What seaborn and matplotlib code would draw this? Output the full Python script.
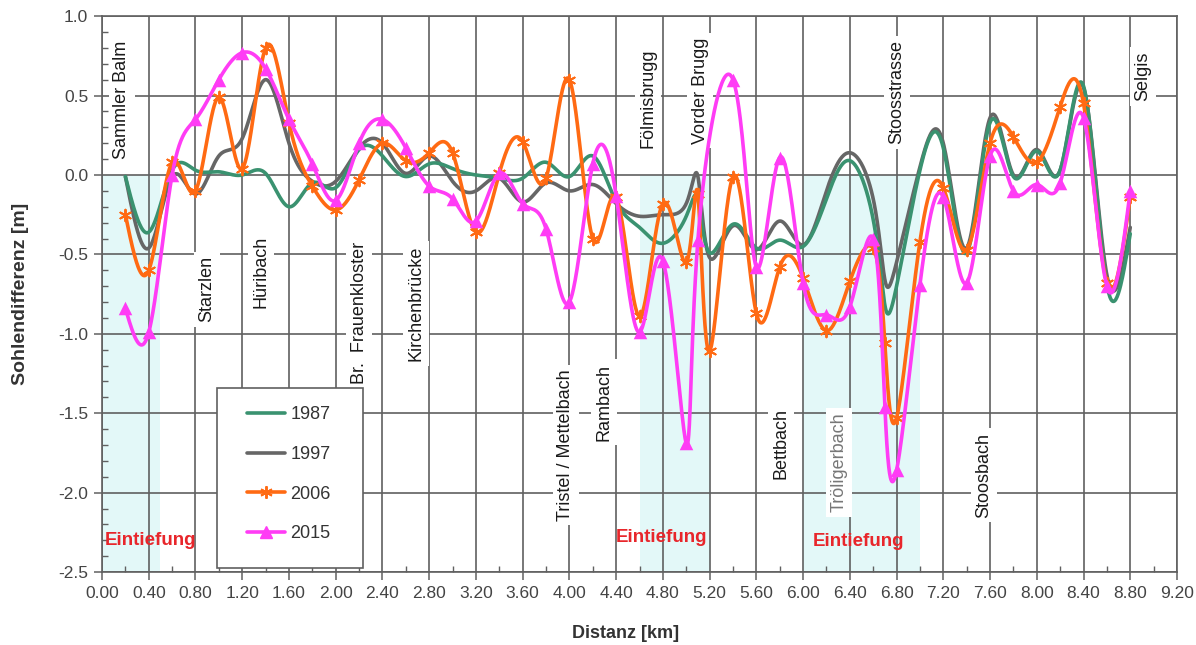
import numpy as np
import matplotlib
matplotlib.use("Agg")
import matplotlib.pyplot as plt
from matplotlib.lines import Line2D
from matplotlib.patches import Rectangle
import seaborn as sns

# ---- data: bed-level difference along the river (km, m) ----
distanz_km = [0.2, 0.4, 0.6, 0.8, 1.0, 1.2, 1.4, 1.6, 1.8, 2.0, 2.2, 2.4, 2.6, 2.8,
              3.0, 3.2, 3.4, 3.6, 3.8, 4.0, 4.2, 4.4, 4.6, 4.8, 5.0, 5.1, 5.2, 5.4,
              5.6, 5.8, 6.0, 6.2, 6.4, 6.6, 6.7, 6.8, 7.0, 7.2, 7.4, 7.6, 7.8, 8.0,
              8.2, 8.4, 8.6, 8.8]

sohle_1987 = [-0.01, -0.36, 0.03, 0.03, 0.02, 0.00, 0.01, -0.20, -0.05, -0.08, 0.16, 0.12,
              -0.01, 0.07, 0.04, 0.00, -0.02, -0.02, 0.08, -0.01, 0.12, -0.17, -0.33, -0.43,
              -0.26, -0.15, -0.49, -0.31, -0.46, -0.41, -0.45, -0.15, 0.09, -0.28, -0.82,
              -0.70, 0.03, 0.17, -0.49, 0.33, -0.01, 0.15, 0.03, 0.56, -0.69, -0.37]

sohle_1997 = [-0.01, -0.46, -0.01, -0.12, 0.12, 0.23, 0.60, 0.20, -0.04, -0.04, 0.17, 0.20,
              0.01, 0.12, -0.04, -0.10, -0.02, -0.17, -0.05, -0.10, -0.06, -0.18, -0.26, -0.25,
              -0.18, -0.01, -0.52, -0.32, -0.47, -0.29, -0.44, -0.10, 0.14, -0.15, -0.66,
              -0.55, 0.05, 0.20, -0.46, 0.36, 0.00, 0.16, 0.03, 0.55, -0.63, -0.33]

sohle_2006 = [-0.25, -0.60, 0.08, -0.10, 0.49, 0.04, 0.80, 0.33, -0.07, -0.22, -0.03, 0.20,
              0.09, 0.14, 0.14, -0.36, 0.01, 0.21, -0.02, 0.60, -0.40, -0.14, -0.89, -0.18,
              -0.55, -0.12, -1.11, -0.01, -0.87, -0.58, -0.65, -0.98, -0.67, -0.46, -1.06,
              -1.53, -0.42, -0.08, -0.47, 0.20, 0.24, 0.08, 0.43, 0.45, -0.68, -0.14]

sohle_2015 = [-0.84, -0.99, 0.00, 0.35, 0.60, 0.77, 0.67, 0.35, 0.07, -0.16, 0.20, 0.35,
              0.17, -0.07, -0.15, -0.29, 0.01, -0.18, -0.34, -0.80, 0.07, -0.13, -0.99, -0.54,
              -1.69, -0.41, None, 0.60, -0.58, 0.11, -0.68, -0.88, -0.83, -0.40, -1.46,
              -1.86, -0.69, -0.14, -0.68, 0.12, -0.10, -0.06, -0.05, 0.36, -0.70, -0.10]

jahre = ["1987", "1997", "2006", "2015"]

# river features along the profile: name, km, m
orte = [("Sammler Balm", 0.17, 0.47), ("Starzlen", 0.90, -0.72), ("Hüribach", 1.36, -0.61),
        ("Br.  Frauenkloster", 2.20, -0.87), ("Kirchenbrücke", 2.69, -0.81),
        ("Tristel / Mettelbach", 3.97, -1.70), ("Rambach", 4.30, -1.43),
        ("Fölmisbrugg", 4.67, 0.48), ("Vorder Brugg", 5.12, 0.53), ("Bettbach", 5.81, -1.69),
        ("Tröligerbach", 6.31, -1.81), ("Stoosstrasse", 6.80, 0.52), ("Stoosbach", 7.55, -1.89),
        ("Selgis", 8.91, 0.62)]

# reaches with bed incision
eintiefung_bereiche = [(0.0, 0.5), (4.6, 5.2), (6.0, 7.0)]
eintiefung_text = [(0.02, -2.30), (4.40, -2.28), (6.08, -2.31)]


def natural_second_derivs(t, v):
    n = len(t)
    h = np.diff(t)
    A = np.zeros((n, n))
    r = np.zeros(n)
    A[0, 0] = A[-1, -1] = 1.0
    for i in range(1, n - 1):
        A[i, i - 1] = h[i - 1]
        A[i, i] = 2 * (h[i - 1] + h[i])
        A[i, i + 1] = h[i]
        r[i] = 6 * ((v[i + 1] - v[i]) / h[i] - (v[i] - v[i - 1]) / h[i - 1])
    return np.linalg.solve(A, r)


def eval_spline(t, v, M, tt, i):
    h = t[i + 1] - t[i]
    a = t[i + 1] - tt
    b = tt - t[i]
    return (M[i] * a ** 3 + M[i + 1] * b ** 3) / (6 * h) \
        + (v[i] / h - M[i] * h / 6) * a + (v[i + 1] / h - M[i + 1] * h / 6) * b


def smooth_curve(x, y, per_seg=40):
    """Parametric natural cubic spline through the points (one parameter step per point)."""
    x = np.asarray(x, float)
    y = np.asarray(y, float)
    t = np.arange(len(x), dtype=float)
    Mx = natural_second_derivs(t, x)
    My = natural_second_derivs(t, y)
    xs, ys = [], []
    for i in range(len(x) - 1):
        tt = np.linspace(t[i], t[i + 1], per_seg, endpoint=(i == len(x) - 2))
        xs.append(eval_spline(t, x, Mx, tt, i))
        ys.append(eval_spline(t, y, My, tt, i))
    return np.concatenate(xs), np.concatenate(ys)


sns.set_theme(style="white")
plt.rcParams["font.family"] = ["Liberation Sans", "DejaVu Sans"]
plt.rcParams["axes.unicode_minus"] = False

fig = plt.figure(figsize=(11.96, 6.45), dpi=100)
ax = fig.add_axes([0.0853, 0.113, 0.8988, 0.862])

grid_col = "#606060"
ax.set_xlim(0, 9.2)
ax.set_ylim(-2.5, 1.0)

# shaded incision reaches (below zero only)
for x0, x1 in eintiefung_bereiche:
    ax.fill_between([x0, x1], -2.5, 0.0, color="#e3f8f8", lw=0, zorder=0.5)

ax.set_xticks(np.arange(0, 9.21, 0.4))
ax.set_xticks(np.arange(0, 9.21, 0.2), minor=True)
ax.set_yticks(np.arange(-2.5, 1.01, 0.5))
ax.set_yticks(np.arange(-2.5, 1.01, 0.1), minor=True)
ax.set_xticklabels([f"{v:.2f}" for v in np.arange(0, 9.21, 0.4)])
ax.set_yticklabels([f"{v:.1f}" for v in np.arange(-2.5, 1.01, 0.5)])
ax.grid(True, which="major", color=grid_col, lw=1.2, zorder=1)
ax.set_axisbelow(True)
ax.tick_params(axis="both", which="major", direction="out", length=6, width=1.1,
               color=grid_col, labelsize=12.5, labelcolor="#444444", pad=4, bottom=True, left=True)
ax.tick_params(axis="both", which="minor", direction="in", length=4, width=1.0,
               color=grid_col, bottom=True, left=True)
for side in ax.spines.values():
    side.set_color(grid_col)
    side.set_linewidth(1.2)

# place names
for name, xo, yo in orte:
    col = "#777777" if name == "Tröligerbach" else "#1a1a1a"
    ax.text(xo, yo, name, rotation=90, ha="center", va="center", fontsize=13, color=col,
            zorder=2.5, bbox=dict(boxstyle="square,pad=0.25", fc="white", ec="none"))

for xo, yo in eintiefung_text:
    ax.text(xo, yo, "Eintiefung", ha="left", va="center", fontsize=13.5, fontweight="bold",
            color="#e8262b", zorder=2.6)

serien = {
    "1997": dict(y=sohle_1997, color="#666666", marker=None, z=3),
    "1987": dict(y=sohle_1987, color="#3a9270", marker=None, z=3.2),
    "2006": dict(y=sohle_2006, color="#ff6a13", marker=(6, 2, 0), z=3.4),
    "2015": dict(y=sohle_2015, color="#ff3cf5", marker="^", z=3.6),
}

for jahr, spec in serien.items():
    pts = [(x, v) for x, v in zip(distanz_km, spec["y"]) if v is not None]
    xp = [p[0] for p in pts]
    yp = [p[1] for p in pts]
    xs, ys = smooth_curve(xp, yp)
    sns.lineplot(x=xs, y=ys, ax=ax, color=spec["color"], lw=2.6, sort=False,
                 estimator=None, zorder=spec["z"])
    if spec["marker"] == "^":
        sns.scatterplot(x=xp, y=yp, ax=ax, marker="^", s=95, color=spec["color"],
                        edgecolor=spec["color"], linewidth=0, zorder=spec["z"] + 0.05)
    elif spec["marker"] is not None:
        sns.scatterplot(x=xp, y=yp, ax=ax, marker=spec["marker"], s=70, color=spec["color"],
                        edgecolor=spec["color"], linewidth=1.4, zorder=spec["z"] + 0.05)

# legend box
ax.add_patch(Rectangle((0.107, 0.0072), 0.1358, 0.3237, transform=ax.transAxes,
                       fc="white", ec=grid_col, lw=1.2, zorder=4.9))
handles = [
    Line2D([], [], color=serien["1987"]["color"], lw=2.6),
    Line2D([], [], color=serien["1997"]["color"], lw=2.6),
    Line2D([], [], color=serien["2006"]["color"], lw=2.6, marker=(6, 2, 0), markersize=9,
           markeredgewidth=1.4),
    Line2D([], [], color=serien["2015"]["color"], lw=2.6, marker="^", markersize=9),
]
leg = ax.legend(handles, jahre, loc="upper left", bbox_to_anchor=(0.1349, 0.298),
                fontsize=13, frameon=False, labelspacing=1.25, handlelength=2.1,
                handletextpad=0.3, borderpad=0.0, borderaxespad=0.0, labelcolor="#333333")
leg.set_zorder(5)

ax.set_xlabel("Distanz [km]", fontsize=13, fontweight="bold", color="#333333")
ax.set_ylabel("Sohlendifferenz [m]", fontsize=14, fontweight="bold", color="#333333")
ax.xaxis.label.set_va("center")
ax.xaxis.set_label_coords(0.487, -0.11)
ax.yaxis.set_label_coords(-0.068, 0.5)

fig.savefig("out.png", dpi=100, facecolor="white")
